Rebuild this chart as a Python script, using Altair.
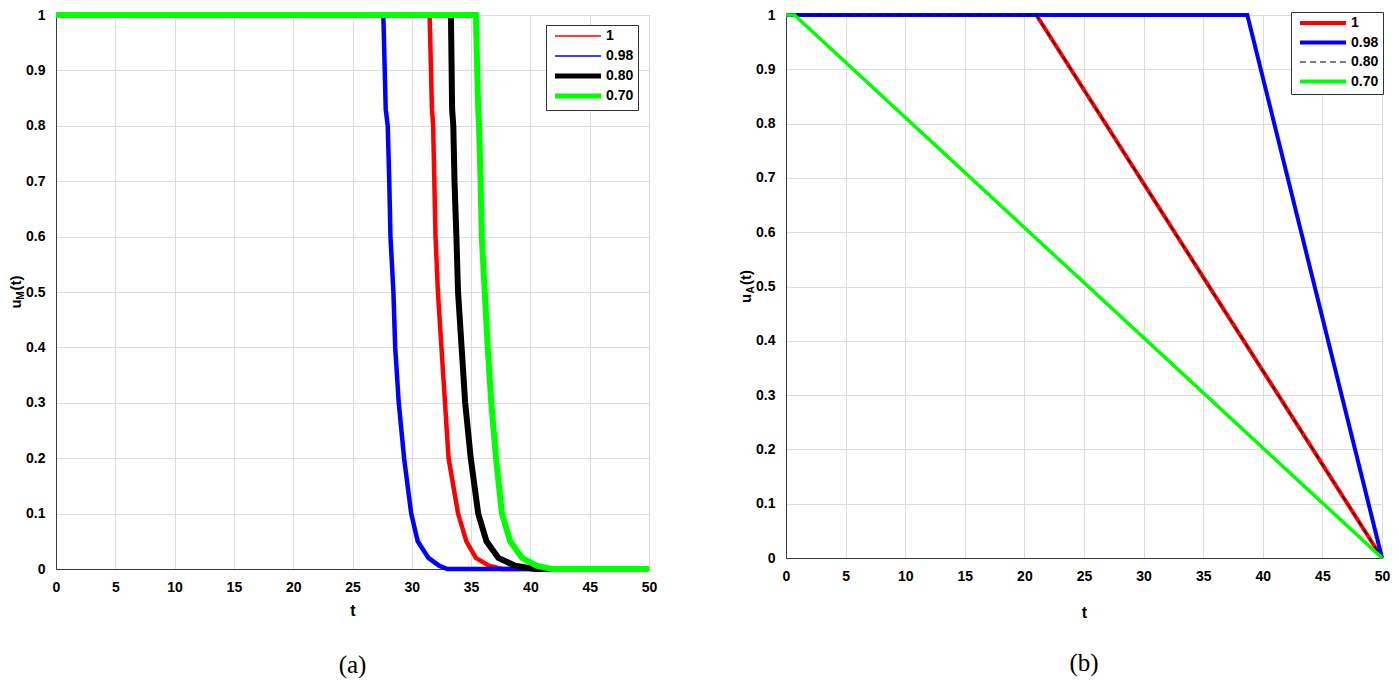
import altair as alt
import pandas as pd

SERIES = ["1", "0.98", "0.80", "0.70"]
COLORS = ["#ff0000", "#0000ff", "#000000", "#00ff00"]

X_TICKS = [0, 5, 10, 15, 20, 25, 30, 35, 40, 45, 50]
Y_TICKS = [0, 0.1, 0.2, 0.3, 0.4, 0.5, 0.6, 0.7, 0.8, 0.9, 1]

# ---------- panel (a): u_M(t) ----------
a_t_1 = [0, 31.5, 31.7, 31.8, 31.9, 32.0, 32.2, 32.5, 32.8, 33.1, 33.9, 34.6, 35.4, 36.5, 37.6, 50]
a_u_1 = [1, 1, 0.83, 0.8, 0.7, 0.6, 0.5, 0.4, 0.3, 0.2, 0.1, 0.05, 0.02, 0.006, 0, 0]
a_t_098 = [0, 27.6, 27.8, 27.97, 28.1, 28.2, 28.45, 28.6, 28.9, 29.35, 29.95, 30.5, 31.4, 32.3, 33.0, 50]
a_u_098 = [1, 1, 0.83, 0.8, 0.7, 0.6, 0.5, 0.4, 0.3, 0.2, 0.1, 0.05, 0.02, 0.006, 0, 0]
a_t_080 = [0, 33.3, 33.4, 33.5, 33.6, 33.76, 33.9, 34.2, 34.5, 34.97, 35.6, 36.3, 37.3, 38.7, 40.4, 50]
a_u_080 = [1, 1, 0.83, 0.8, 0.7, 0.6, 0.5, 0.4, 0.3, 0.2, 0.1, 0.05, 0.02, 0.006, 0, 0]
a_t_070 = [0, 35.4, 35.6, 35.67, 35.8, 35.9, 36.15, 36.4, 36.7, 37.1, 37.6, 38.3, 39.3, 40.5, 41.8, 50]
a_u_070 = [1, 1, 0.83, 0.8, 0.7, 0.6, 0.5, 0.4, 0.3, 0.2, 0.1, 0.05, 0.02, 0.006, 0, 0]

# ---------- panel (b): u_A(t) ----------
b_t_1 = [0, 21, 50]
b_u_1 = [1, 1, 0]
b_t_098 = [0, 38.7, 50]
b_u_098 = [1, 1, 0]
b_t_080 = [0, 21, 50]
b_u_080 = [1, 1, 0]
b_t_070 = [0, 0.7, 50]
b_u_070 = [1, 1, 0]

FONT = "Liberation Sans"
FRAME = "#3a3a3a"


def long_df(ts, us):
    rows = []
    for name, t, u in zip(SERIES, ts, us):
        for ti, ui in zip(t, u):
            rows.append({"t": ti, "u": ui, "s": name})
    return pd.DataFrame(rows)


df_a = long_df([a_t_1, a_t_098, a_t_080, a_t_070], [a_u_1, a_u_098, a_u_080, a_u_070])
df_b = long_df([b_t_1, b_t_098, b_t_080, b_t_070], [b_u_1, b_u_098, b_u_080, b_u_070])


def panel(df, W, H, widths, dashes, leg_x, leg_y, sw_expr, dash_expr, sub,
          title_pad, caption, cap_offset, row_pad):
    x = alt.X("t:Q", scale=alt.Scale(domain=[0, 50], nice=False, zero=False),
              axis=alt.Axis(values=X_TICKS, title="t", titlePadding=title_pad,
                            labelFlush=False, format="~g"))
    y = alt.Y("u:Q", scale=alt.Scale(domain=[0, 1], nice=False),
              axis=alt.Axis(values=Y_TICKS, title=None, format="~g"))
    leg_kw = dict(
        title=None, orient="none", legendX=leg_x, legendY=leg_y,
        symbolType="M-4.6,0H4.6", symbolSize=100, symbolOffset=21,
        labelOffset=21, padding=4, rowPadding=row_pad, gridAlign="all",
        labelFont=FONT, labelFontSize=14, labelFontWeight="bold", labelColor="black",
        strokeColor="#333333", fillColor="white",
        symbolStrokeWidth={"expr": sw_expr},
    )
    if dash_expr:
        leg_kw["symbolDash"] = {"expr": dash_expr}
    legend = alt.Legend(**leg_kw)
    color = alt.Color("s:N", scale=alt.Scale(domain=SERIES, range=COLORS),
                      legend=legend, sort=SERIES)
    layers = []
    for name, w, d in zip(SERIES, widths, dashes):
        enc = dict(x=x, y=y, color=color, strokeWidth=alt.value(w))
        if d:
            enc["strokeDash"] = alt.value(d)
        layers.append(
            alt.Chart(df).transform_filter(alt.datum.s == name)
            .mark_line(clip=False)
            .encode(**enc)
        )
    one = pd.DataFrame({"k": [0]})
    tx = -40
    layers.append(alt.Chart(one).mark_text(text="u", angle=270, font=FONT, fontSize=15,
                                           fontWeight="bold", color="black", align="center",
                                           baseline="middle")
                  .encode(x=alt.value(tx), y=alt.value(H / 2 + 12)))
    layers.append(alt.Chart(one).mark_text(text=sub, angle=270, font=FONT, fontSize=10,
                                           fontWeight="bold", color="black", align="center",
                                           baseline="middle")
                  .encode(x=alt.value(tx + 5), y=alt.value(H / 2 + 3.5)))
    layers.append(alt.Chart(one).mark_text(text="(t)", angle=270, font=FONT, fontSize=15,
                                           fontWeight="bold", color="black", align="center",
                                           baseline="middle")
                  .encode(x=alt.value(tx), y=alt.value(H / 2 - 9)))
    return alt.layer(*layers).properties(
        width=W, height=H,
        title=alt.TitleParams(caption, orient="bottom", anchor="middle", frame="group",
                              font="Liberation Serif", fontSize=25, fontWeight="normal",
                              color="black", offset=cap_offset),
    )


pa = panel(df_a, 593, 554,
           [4.5, 4.5, 6, 6], [None, None, None, None],
           490, 10,
           "datum.value === '1' || datum.value === '0.98' ? 1.5 : 5",
           None, "M", 8, "(a)", 35, 0)

pb = panel(df_b, 596, 543,
           [4, 4, 1.2, 3.5], [None, None, [6, 4], None],
           505, -3,
           "datum.value === '0.80' ? 1.2 : 4",
           "datum.value === '0.80' ? [6, 4] : [1, 0]", "A", 21, "(b)", 31, 3.5)

chart = (
    alt.hconcat(pa, pb, spacing=76)
    .resolve_scale(color="independent")
    .resolve_legend(color="independent")
    .properties(padding={"left": 0, "top": -6, "right": 0, "bottom": 0})
    .configure_view(stroke=FRAME, strokeWidth=1)
    .configure_axis(
        domainColor=FRAME, gridColor="#dcdcdc", gridWidth=1, ticks=False,
        labelPadding=11, labelFont=FONT, labelFontSize=14, labelFontWeight="bold",
        labelColor="black", titleFont=FONT, titleFontSize=16, titleFontWeight="bold",
        titleColor="black",
    )
)

chart.save("out.html", embed_options={"renderer": "svg", "actions": False})
